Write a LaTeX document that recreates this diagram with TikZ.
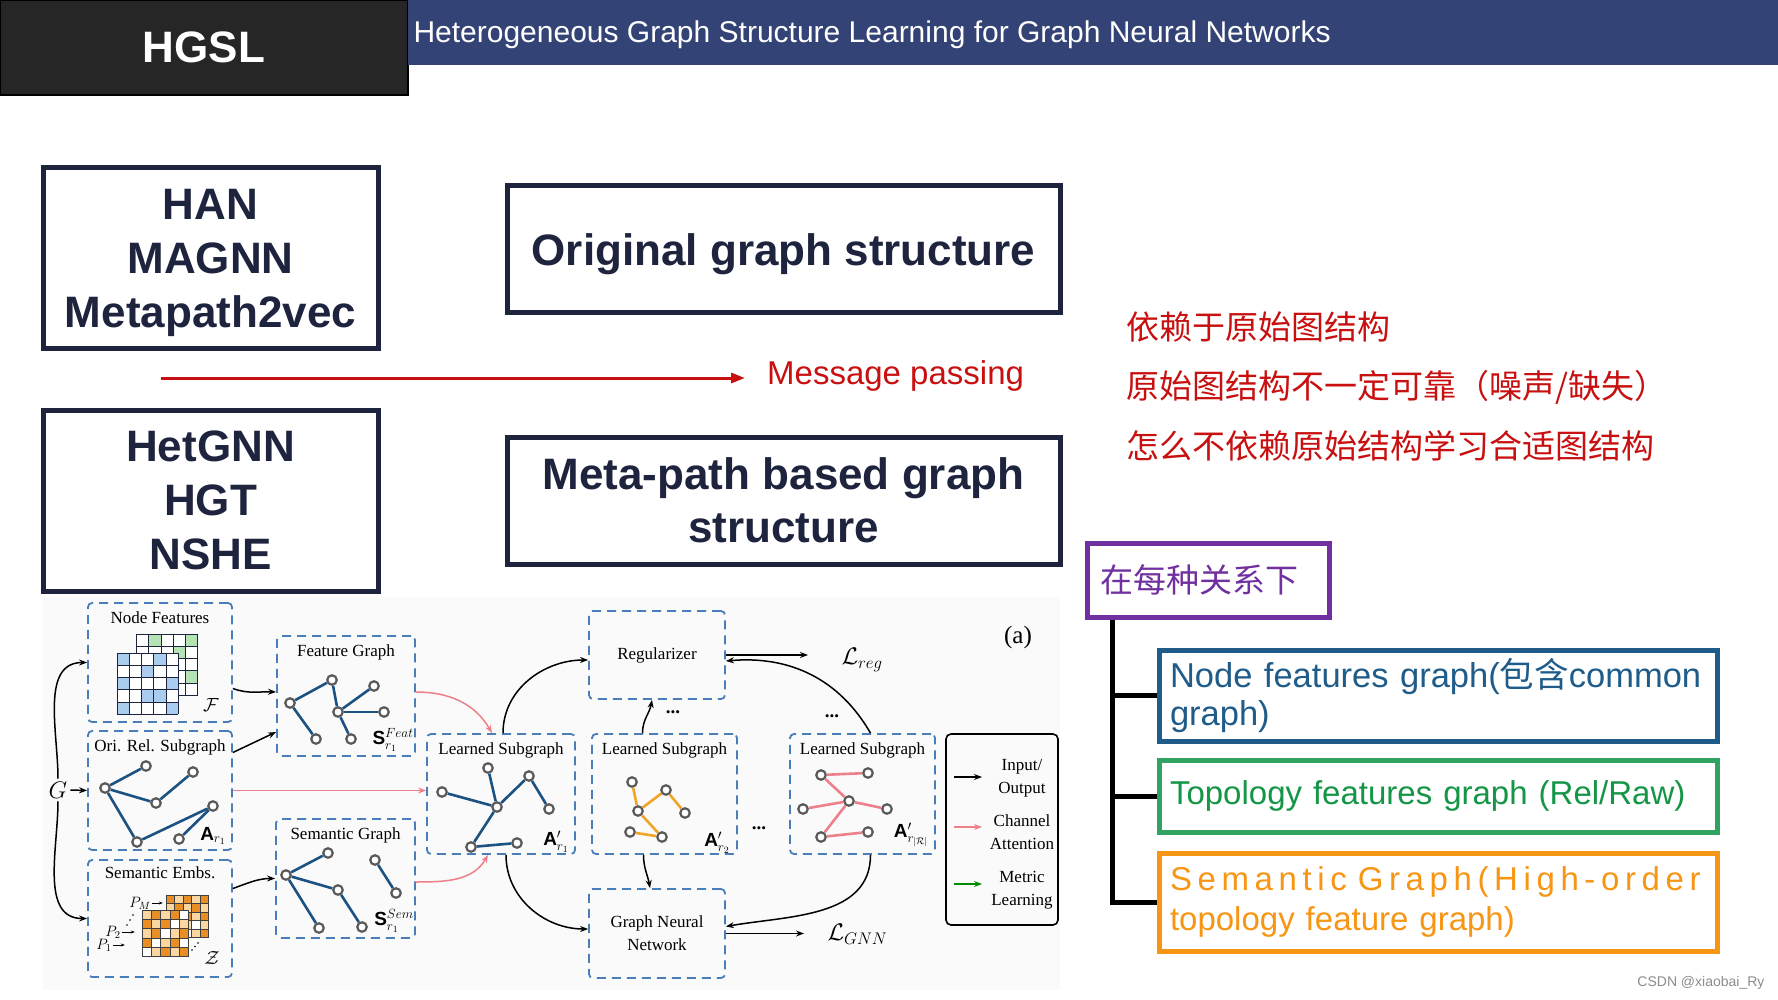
\documentclass[tikz,border=0pt]{standalone}
\usepackage{fix-cm}
\usepackage{fontspec}
\setmainfont{Liberation Sans}
\newfontfamily\cjk{Noto Sans CJK SC}
\newfontfamily\tnr{Liberation Serif}
\usepackage{tikz}
\usetikzlibrary{arrows.meta,positioning}

\begin{document}
\begin{tikzpicture}[x=1pt,y=1pt,node distance=242pt]
    \definecolor{navy}{RGB}{30,36,62}
    \definecolor{barblue}{RGB}{52,67,117}
    \definecolor{hgslbg}{RGB}{38,38,38}
    \definecolor{myred}{RGB}{200,16,16}
    \definecolor{mypurple}{RGB}{112,48,160}
    \definecolor{myblued}{RGB}{31,92,138}
    \definecolor{mygreen}{RGB}{48,163,98}
    \definecolor{mygreent}{RGB}{20,150,70}
    \definecolor{myorange}{RGB}{247,150,20}
    \definecolor{dashblue}{RGB}{74,126,187}
    \definecolor{edgeblue}{RGB}{28,82,130}
    \definecolor{edgeorange}{RGB}{240,165,40}
    \definecolor{mypink}{RGB}{238,128,138}
    \definecolor{cellblue}{RGB}{170,204,238}
    \definecolor{cellgreen}{RGB}{180,228,180}
    \definecolor{celldark}{RGB}{232,142,36}
    \definecolor{celllight}{RGB}{250,214,160}

    \tikzstyle{mbox}=[rectangle,draw=navy,line width=5pt,text=navy,align=center,text depth=0pt,font=\fontsize{44}{54}\selectfont\bfseries]  % 左上方框
    \tikzstyle{cbox}=[rectangle,line width=5pt,align=left,text width=536pt,inner xsep=11pt,minimum width=558pt,font=\fontsize{33}{38}\selectfont]  % 右下彩色框
    \tikzstyle{dbox}=[rectangle,draw=dashblue,line width=1.8pt,dash pattern=on 9pt off 6pt,rounded corners=4pt]  % 虚线框
    \tikzstyle{ftxt}=[inner sep=1pt,font=\tnr\fontsize{17}{23}\selectfont,align=center]
    \tikzstyle{mlab}=[inner sep=1pt,font=\fontsize{19}{21}\selectfont]
    \tikzstyle{gn}=[circle,draw=black!65,line width=2.2pt,fill=white,minimum size=9.5pt,inner sep=0pt]  % 图中的点
    \tikzstyle{be}=[line width=2.6pt,edgeblue]
    \tikzstyle{oe}=[line width=2.6pt,edgeorange]
    \tikzstyle{pe}=[line width=2.6pt,mypink]
    \tikzstyle{io}=[-{Stealth[length=8pt,width=6pt]},line width=1.5pt]
    \tikzstyle{ca}=[-{Stealth[length=8pt,width=6pt]},line width=1.5pt,mypink]
    \tikzstyle{gline}=[line width=1pt,navy]
    \tikzstyle{oline}=[line width=0.8pt,black!75]
    \tikzstyle{dots}=[font=\tnr\bfseries\fontsize{19}{20}\selectfont]

    \fill[white] (0,0) rectangle (1778,-1000);
    \useasboundingbox (0,0) rectangle (1778,-1000);

    % 标题栏
    \node[fill=hgslbg,draw=black,line width=1.5pt,minimum width=408pt,minimum height=95pt,text=white,font=\fontsize{44}{50}\selectfont\bfseries] (hgsl) at (204,-47.5) {HGSL};
    \node[fill=barblue,minimum width=1370pt,minimum height=65pt,anchor=north west,inner sep=0pt] (bar) at (408,0) {};
    \node[anchor=west,text=white,font=\fontsize{30}{36}\selectfont] (title) at (410,-35) {Heterogeneous Graph Structure Learning for Graph Neural Networks};

    % 左上四个框
    \node[mbox,minimum width=335pt,minimum height=181pt] (han) at (210.5,-258.5) {HAN\\MAGNN\\Metapath2vec};
    \node[mbox,minimum width=335pt,minimum height=181pt,below of=han] (het) {HetGNN\\HGT\\NSHE};
    \node[mbox,minimum width=553pt,minimum height=127pt] (orig) at (783.5,-249.5) {Original graph structure};
    \node[mbox,minimum width=553pt,minimum height=127pt,below of=orig,node distance=251pt,font=\fontsize{44}{53}\selectfont\bfseries] (meta) {Meta-path based graph\\structure};

    \node[anchor=west,text=myred,font=\fontsize{33}{40}\selectfont,inner sep=0pt] (mp) at (767,-376) {Message passing};
    \coordinate (mpS) at (161,-378);
    \draw[-{Triangle[length=14pt,width=10pt]},myred,line width=3pt] (mpS) -- ([xshift=-22pt,yshift=-2pt]mp.west);

    % 红字
    \node[anchor=west,text=myred,font=\cjk\fontsize{33}{40}\selectfont,inner sep=0pt] (c1) at (1126,-327) {依赖于原始图结构};
    \node[anchor=west,text=myred,font=\cjk\fontsize{33}{40}\selectfont,inner sep=0pt] (c2) at (1126,-387) {原始图结构不一定可靠（噪声/缺失）};
    \node[anchor=west,text=myred,font=\cjk\fontsize{33}{40}\selectfont,inner sep=0pt] (c3) at (1126,-446) {怎么不依赖原始结构学习合适图结构};

    % 右下树
    \node[draw=mypurple,line width=5pt,text=mypurple,font=\cjk\fontsize{33}{40}\selectfont,minimum width=242pt,minimum height=74pt,inner xsep=13pt,text width=216pt,align=left] (rel) at (1208,-580) {在每种关系下};
    \node[cbox,draw=myblued,text=myblued,minimum height=91pt,font=\fontsize{34.5}{38}\selectfont] (nfg) at (1438,-695.5) {Node features graph({\cjk 包含}common\\graph)};
    \node[cbox,draw=mygreen,text=mygreent,minimum height=72pt] (tfg) at (1438,-796) {Topology features graph (Rel/Raw)};
    \node[cbox,draw=myorange,text=myorange,minimum height=98pt,font=\fontsize{33}{40}\selectfont] (sg) at (1438,-902) {\mbox{\addfontfeature{LetterSpace=17}Semantic Graph(High-order}\\topology feature graph)};
    \draw[line width=5pt] ([xshift=28pt]rel.south west) |- (nfg.west);
    \draw[line width=5pt] ([xshift=28pt]rel.south west) |- (tfg.west);
    \draw[line width=5pt] ([xshift=28pt]rel.south west) |- (sg.west);

    \node[text=black!45,font=\fontsize{14}{16}\selectfont,anchor=east] (csdn) at (1768,-983) {CSDN @xiaobai\_Ry};

    % 下方模型图
    \fill[black!2] (43,-597) rectangle (1060,-990);
    \node[dbox,minimum width=144pt,minimum height=119pt] (nf) at (160,-662.5) {};
    \node[dbox,minimum width=144pt,minimum height=119pt] (ori) at (160,-790.5) {};
    \node[dbox,minimum width=144pt,minimum height=117pt] (se) at (160,-918.5) {};
    \node[dbox,minimum width=138pt,minimum height=120pt] (fg) at (346,-696) {};
    \node[dbox,minimum width=139pt,minimum height=119pt] (sgr) at (345.5,-878.5) {};
    \node[dbox,minimum width=148pt,minimum height=120pt] (ls1) at (501,-794) {};
    \node[dbox,minimum width=145pt,minimum height=120pt] (ls2) at (664.5,-794) {};
    \node[dbox,minimum width=145pt,minimum height=120pt] (ls3) at (862.5,-794) {};
    \node[dbox,ftxt,minimum width=136pt,minimum height=88pt] (reg) at (657,-655) {Regularizer};
    \node[dbox,ftxt,minimum width=136pt,minimum height=89pt] (gnn) at (657,-933.5) {Graph Neural\\Network};
    \node[draw,rounded corners=5pt,line width=1.6pt,minimum width=112pt,minimum height=191pt] (leg) at (1002,-829.5) {};

    \node[ftxt,below=8pt of nf.north] (nft) {Node Features};
    \node[ftxt,below=8pt of ori.north] (orit) {Ori. Rel. Subgraph};
    \node[ftxt,below=6pt of se.north] (set) {Semantic Embs.};
    \node[ftxt,below=8pt of fg.north] (fgt) {Feature Graph};
    \node[ftxt,below=8pt of sgr.north] (sgrt) {Semantic Graph};
    \node[ftxt,below=8pt of ls1.north] (ls1t) {Learned Subgraph};
    \node[ftxt,below=8pt of ls2.north] (ls2t) {Learned Subgraph};
    \node[ftxt,below=8pt of ls3.north] (ls3t) {Learned Subgraph};

    % 矩阵
    \fill[white] (136.7,-634.3) rectangle ++(61,-61);
    \foreach \r/\c in {1/2,1/5,2/4,3/3,4/5,5/2}
        \fill[cellgreen] (124.5+\c*12.2,-622.1-\r*12.2) rectangle ++(12.2,-12.2);
    \foreach \i in {0,...,5} {
        \draw[gline] (136.7+\i*12.2,-634.3) -- ++(0,-61);
        \draw[gline] (136.7,-634.3-\i*12.2) -- ++(61,0);
    }
    \fill[white] (117.3,-653.3) rectangle ++(61,-61);
    \foreach \r/\c in {1/1,1/4,2/3,3/1,3/5,4/3,4/4,5/1,5/5}
        \fill[cellblue] (105.1+\c*12.2,-641.1-\r*12.2) rectangle ++(12.2,-12.2);
    \foreach \i in {0,...,5} {
        \draw[gline] (117.3+\i*12.2,-653.3) -- ++(0,-61);
        \draw[gline] (117.3,-653.3-\i*12.2) -- ++(61,0);
    }
    \fill[white] (166,-895) rectangle ++(42.5,-42.5);
    \foreach \r/\c in {1/2,1/4,2/1,2/3,2/5,3/2,3/4,4/1,4/3,4/5,5/2,5/4}
        \fill[celllight] (157.5+\c*8.5,-886.5-\r*8.5) rectangle ++(8.5,-8.5);
    \foreach \r/\c in {1/1,1/3,1/5,2/2,2/4,3/3,3/5,4/2,5/5}
        \fill[celldark] (157.5+\c*8.5,-886.5-\r*8.5) rectangle ++(8.5,-8.5);
    \foreach \i in {0,...,5} {
        \draw[oline] (166+\i*8.5,-895) -- ++(0,-42.5);
        \draw[oline] (166,-895-\i*8.5) -- ++(42.5,0);
    }
    \fill[white] (142,-910) rectangle ++(46.5,-46.5);
    \foreach \r/\c in {1/1,1/3,2/5,3/1,3/4,4/3,5/2,5/4,2/2}
        \fill[celllight] (132.7+\c*9.3,-900.7-\r*9.3) rectangle ++(9.3,-9.3);
    \foreach \r/\c in {1/2,1/4,2/1,2/3,3/2,3/5,4/1,4/4,5/3,5/5}
        \fill[celldark] (132.7+\c*9.3,-900.7-\r*9.3) rectangle ++(9.3,-9.3);
    \foreach \i in {0,...,5} {
        \draw[oline] (142+\i*9.3,-910) -- ++(0,-46.5);
        \draw[oline] (142,-910-\i*9.3) -- ++(46.5,0);
    }
    \foreach \k in {0,1,2} {
        \fill (127+\k*3,-925+\k*5) circle (0.9);
        \fill (192+\k*3,-950+\k*3.5) circle (0.9);
    }
    \node[mlab,font=\fontsize{15}{17}\selectfont] (pm) at (140,-903) {$P_M$};
    \node[mlab,font=\fontsize{15}{17}\selectfont] (p2) at (113,-932) {$P_2$};
    \node[mlab,font=\fontsize{15}{17}\selectfont] (p1) at (104,-945) {$P_1$};
    \draw[-{Stealth[length=4pt]},line width=0.8pt] (pm.east) -- ++(11,0);
    \draw[-{Stealth[length=4pt]},line width=0.8pt] (p2.east) -- ++(13,0);
    \draw[-{Stealth[length=4pt]},line width=0.8pt] (p1.east) -- ++(12,0);

    % 子图
    \foreach \n/\x/\y in {a/105/788,b/146/766,c/156/803,d/193/772,e/213/806,f/137/842,g/179/839}
        \node[gn] (or\n) at (\x,-\y) {};
    \foreach \a/\b in {a/b,a/c,c/d,a/f,f/e,g/e}
        \draw[be] (or\a) -- (or\b);
    \foreach \n/\x/\y in {a/290/703,b/332/680,c/338/712,d/374/686,e/384/712,f/316/739,g/351/739}
        \node[gn] (ft\n) at (\x,-\y) {};
    \foreach \a/\b in {a/b,b/c,c/d,c/e,a/f,c/g}
        \draw[be] (ft\a) -- (ft\b);
    \foreach \n/\x/\y in {a/286/875,b/328/853,c/338/890,d/375/860,e/396/893,f/319/928,g/362/927}
        \node[gn] (sm\n) at (\x,-\y) {};
    \foreach \a/\b in {a/b,a/c,c/g,a/f,d/e}
        \draw[be] (sm\a) -- (sm\b);
    \foreach \n/\x/\y in {a/442/792,b/488/768,c/497/807,d/529/776,e/549/809,f/471/847,g/517/843}
        \node[gn] (la\n) at (\x,-\y) {};
    \foreach \a/\b in {a/c,b/c,c/d,d/e,c/f,f/g}
        \draw[be] (la\a) -- (la\b);
    \foreach \n/\x/\y in {a/632/782,b/666/790,c/638/811,d/685/813,e/630/832,f/662/837}
        \node[gn] (lb\n) at (\x,-\y) {};
    \foreach \a/\b in {a/c,c/b,b/d,c/f,e/f}
        \draw[oe] (lb\a) -- (lb\b);
    \foreach \n/\x/\y in {a/821/775,b/868/773,c/849/801,d/803/809,e/887/809,f/821/837,g/868/832}
        \node[gn] (lc\n) at (\x,-\y) {};
    \foreach \a/\b in {a/b,a/c,d/c,c/e,c/f,f/g}
        \draw[pe] (lc\a) -- (lc\b);

    % 公式标签
    \node[mlab] (lF) at (211,-705) {$\mathcal{F}$};
    \node[mlab] (lZ) at (212,-958) {$\mathcal{Z}$};
    \node[mlab] (lA) at (213,-836) {$\mathbf{A}_{r_1}$};
    \node[mlab] (lSf) at (393,-740) {$\mathbf{S}^{Feat}_{r_1}$};
    \node[mlab] (lSs) at (394,-921) {$\mathbf{S}^{Sem}_{r_1}$};
    \node[mlab] (lA1) at (556,-842) {$\mathbf{A}'_{r_1}$};
    \node[mlab] (lA2) at (717,-843) {$\mathbf{A}'_{r_2}$};
    \node[mlab] (lA3) at (911,-835) {$\mathbf{A}'_{r_{|\mathcal{R}|}}$};
    \node[font=\fontsize{24}{28}\selectfont,inner sep=3pt] (G) at (58,-790) {$G$};
    \node[font=\tnr\fontsize{25}{30}\selectfont] (lab) at (1018,-637) {(a)};
    \node[anchor=west,font=\fontsize{24}{28}\selectfont] (lreg) at (838,-660) {$\mathcal{L}_{reg}$};
    \node[anchor=west,font=\fontsize{24}{28}\selectfont] (lgnn) at (824,-934) {$\mathcal{L}_{GNN}$};
    \node[dots] (d1) at (673,-712) {...};
    \node[dots] (d2) at (832,-716) {...};
    \node[dots] (d3) at (759,-828) {...};

    % 图例
    \node[ftxt] (lio) at (1022,-778) {Input/\\Output};
    \node[ftxt] (lca) at (1022,-832) {Channel\\Attention};
    \node[ftxt] (lml) at (1022,-890) {Metric\\Learning};
    \draw[io] ([xshift=-68pt,yshift=1pt]lio.center) -- ++(28,0);
    \draw[ca] ([xshift=-68pt,yshift=5pt]lca.center) -- ++(28,0);
    \draw[io,green!55!black] ([xshift=-68pt,yshift=6pt]lml.center) -- ++(28,0);

    % 开始画线
    \draw[io] (G.north) to[out=90,in=180] (nf.west);
    \draw[io] (G.east) -- (ori.west);
    \draw[io] (G.south) to[out=-90,in=180] (se.west);
    \draw[io] ([yshift=-26pt]nf.east) to[out=-20,in=178] ([yshift=4pt]fg.west);
    \draw[io] ([yshift=38pt]ori.east) -- ([yshift=-36pt]fg.west);
    \draw[io] ([yshift=30pt]se.east) to[out=20,in=180] (sgr.west);
    \draw[ca] (ori.east) -- (ori.east -| ls1.west);
    \draw[ca] ([yshift=4pt]fg.east) to[out=0,in=120] ([xshift=-9pt]ls1.north);
    \draw[ca] ([yshift=-3.5pt]sgr.east) to[out=0,in=-120] ([xshift=-13pt]ls1.south);
    \draw[io] ([xshift=2pt]ls1.north) to[out=90,in=180] ([yshift=-5pt]reg.west);
    \draw[io] ([xshift=-22pt]ls2.north) to[out=90,in=-100] ([xshift=-5pt]reg.south);
    \draw[io] ([xshift=8pt]ls3.north) to[out=120,in=5] ([yshift=-6pt]reg.east);
    \draw[io] ([xshift=5pt]ls1.south) to[out=-90,in=180] ([yshift=4.5pt]gnn.west);
    \draw[io] ([xshift=-21pt]ls2.south) to[out=-90,in=100] ([xshift=-7pt]gnn.north);
    \draw[io] ([xshift=8pt]ls3.south) to[out=-90,in=10] ([yshift=7pt]gnn.east);
    \draw[io,shorten >=30pt] (reg.east) -- (reg.east -| lreg.west);
    \draw[io,shorten >=20pt] (gnn.east) -- (gnn.east -| lgnn.west);
\end{tikzpicture}
\end{document}
